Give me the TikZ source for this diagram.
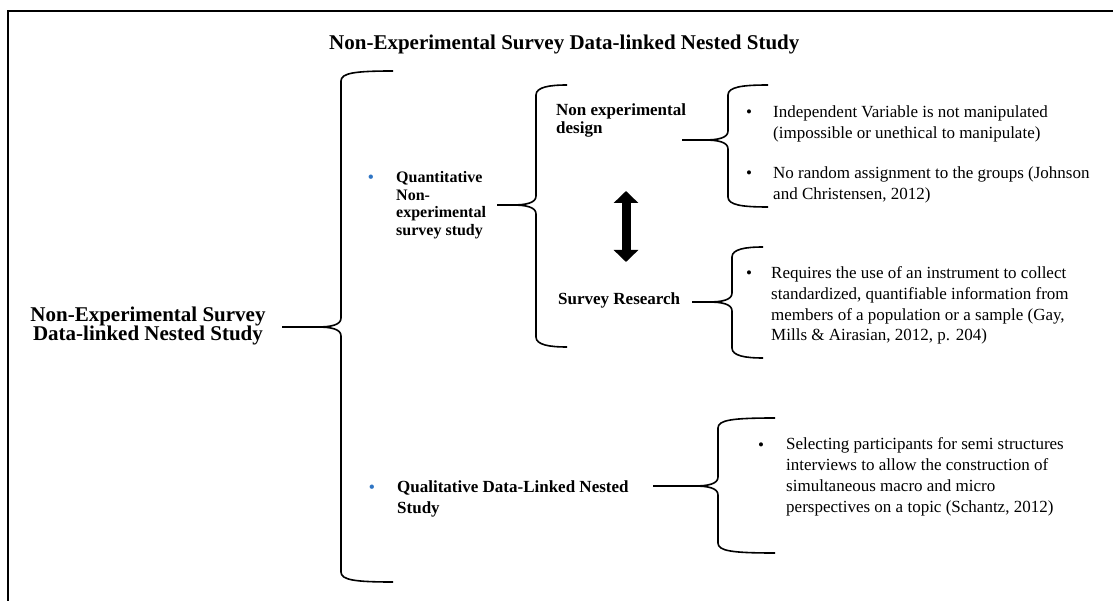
\documentclass[tikz,border=0pt]{standalone}
\usepackage{fontspec}
\setmainfont{Liberation Serif}
\usetikzlibrary{arrows.meta}
\definecolor{bulblue}{RGB}{47,117,196}
\newcommand{\tightlines}{\lineskiplimit=-50pt\relax}

\tikzset{
  brc/.style={line width=1.6pt},
  hd/.style={font=\bfseries\fontsize{21}{19}\selectfont\tightlines, inner sep=0pt},
  lvl/.style={font=\bfseries\fontsize{17}{21}\selectfont, inner sep=0pt, align=left, anchor=base west},
  txt/.style={font=\fontsize{17}{20.7}\selectfont, inner sep=0pt, align=left, anchor=base west},
  dot/.style={font=\fontsize{17}{20}\selectfont, inner sep=0pt, anchor=base},
  dblarr/.style={line width=9pt, {Triangle[width=24pt,length=12pt]}-{Triangle[width=24pt,length=12pt]}}
}

% curly bracket: x, top, middle, bottom, tip, arm end
\newcommand{\curly}[6]{%
\draw[brc] (#6,#2) .. controls (#1+14,#2) and (#1,#2+2) .. (#1,#2+10)
  -- (#1,#3-9) .. controls (#1,#3-2) and (#1-10,#3) .. (#1-24,#3) -- (#5,#3);
\draw[brc] (#1-24,#3) .. controls (#1-10,#3) and (#1,#3+2) .. (#1,#3+9)
  -- (#1,#4-10) .. controls (#1,#4-2) and (#1+14,#4) .. (#6,#4);}

\begin{document}
\begin{tikzpicture}[x=1pt,y=-1pt]
\useasboundingbox (0,0) rectangle (1113,601);
\draw[line width=2pt] (1113,11) -- (8,11) -- (8,601);

% multi-line nodes sit on the baseline of their last line
\node[hd, anchor=base west] (ttl) at (329,50) {Non-Experimental Survey Data-linked Nested Study};
\node[hd, align=center, anchor=base] (root) at (148,341) {Non-Experimental Survey\\Data-linked Nested Study};

% second level
\node[dot, text=bulblue, font=\bfseries\fontsize{16}{17.5}\selectfont] (d1) at (371,183) {\textbullet};
\node[lvl, font=\bfseries\fontsize{16}{17.5}\selectfont] (quant) at (396,235.5) {Quantitative\\Non-\\experimental\\survey study};
\node[dot, text=bulblue, font=\bfseries\fontsize{16}{17.5}\selectfont] (d2) at (372,492) {\textbullet};
\node[lvl] (qual) at (397,513) {Qualitative Data-Linked Nested\\Study};

% third level
\node[lvl, font=\bfseries\fontsize{17}{18}\selectfont] (nexp) at (556,134) {Non experimental\\design};
\node[lvl] (surv) at (558,305) {Survey Research};
\coordinate (au) at (626,191);
\coordinate (ad) at (626,262);
\draw[dblarr] (au) -- (ad);

% bullet texts
\node[dot] (d3) at (749,118) {\textbullet};
\node[txt] (b1) at (773,138.7) {Independent Variable is not manipulated\\(impossible or unethical to manipulate)};
\node[dot] (d4) at (749,179) {\textbullet};
\node[txt] (b2) at (773,199.7) {No random assignment to the groups (Johnson\\and Christensen, 2012)};
\node[dot] (d5) at (749,279) {\textbullet};
\node[txt] (b3) at (771,341) {Requires the use of an instrument to collect\\standardized, quantifiable information from\\members of a population or a sample (Gay,\\Mills \& Airasian, 2012, p. 204)};
\node[dot] (d6) at (761,450) {\textbullet};
\node[txt] (b4) at (786,512) {Selecting participants for semi structures\\interviews to allow the construction of\\simultaneous macro and micro\\perspectives on a topic (Schantz, 2012)};

% brackets
\curly{341}{71}{327}{582}{282}{393}
\curly{536}{85}{205}{347}{497}{567}
\curly{728}{85}{140}{207}{682}{768}
\curly{732}{247}{302}{358}{692}{763}
\curly{718}{418}{486}{553}{653}{775}

\end{tikzpicture}
\end{document}
